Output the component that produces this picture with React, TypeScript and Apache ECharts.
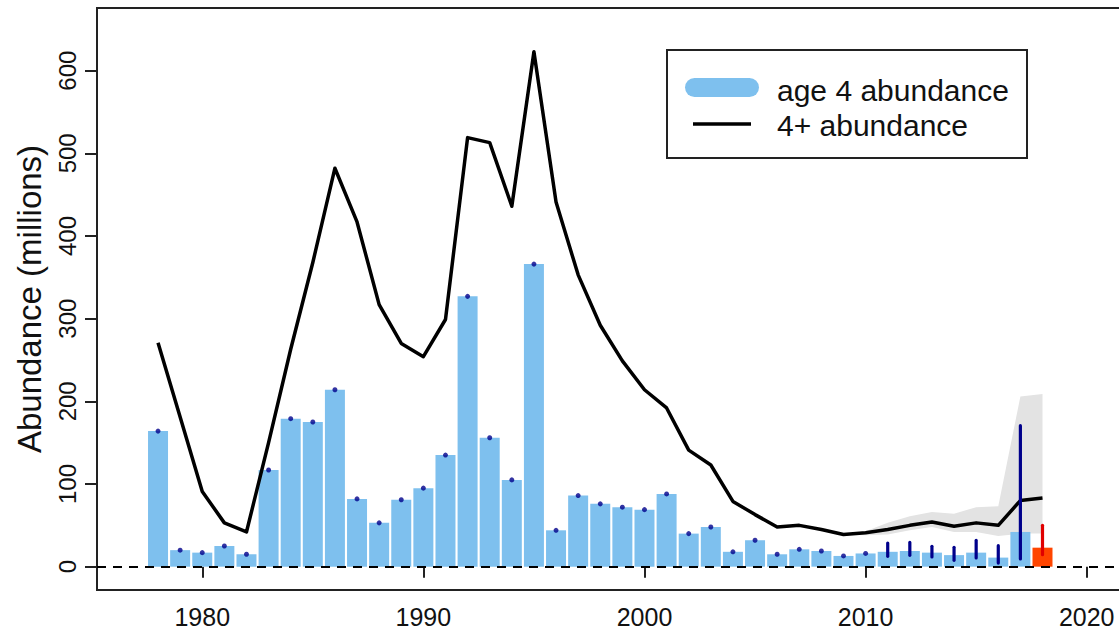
import React, { useEffect, useRef } from "react";
import * as echarts from "echarts";

// Survey years with age-4 estimates (2018 is the projected year)
const years = [
  1978, 1979, 1980, 1981, 1982, 1983, 1984, 1985, 1986, 1987,
  1988, 1989, 1990, 1991, 1992, 1993, 1994, 1995, 1996, 1997,
  1998, 1999, 2000, 2001, 2002, 2003, 2004, 2005, 2006, 2007,
  2008, 2009, 2010, 2011, 2012, 2013, 2014, 2015, 2016, 2017,
];

// Age 4 abundance (millions), 1978–2017
const age4Abundance = [
  164, 20, 17, 25, 15, 117, 179, 175, 214, 82,
  53, 81, 95, 135, 327, 156, 105, 366, 44, 86,
  76, 72, 69, 88, 40, 48, 18, 32, 15, 21,
  19, 13, 16, 18, 19, 17, 14, 17, 11, 42,
];

// Projected age 4 abundance
const projectedYear = 2018;
const projectedAge4 = 23;
const projectedLower = 14.5;
const projectedUpper = 50;

// 4+ abundance (millions), 1978–2018
const lineYears = [...years, 2018];
const abundance4Plus = [
  271, 181, 91, 53, 42, 150, 263, 368, 482, 417,
  317, 270, 254, 299, 519, 513, 436, 623, 441, 353,
  292, 249, 214, 192, 141, 123, 79, 63, 48, 50,
  45, 39, 41, 45, 50, 54, 49, 53, 50, 80,
  83,
];

// Uncertainty band around 4+ abundance
const bandYears = [2009, 2010, 2011, 2012, 2013, 2014, 2015, 2016, 2017, 2018];
const bandLower = [38.5, 38, 39, 44, 48, 42, 42, 37, 40, 40];
const bandUpper = [39.5, 43, 53, 61, 66, 64, 72, 73, 206, 209];

// Interval on age 4 abundance for recent years
const ciYears = [2011, 2012, 2013, 2014, 2015, 2016, 2017];
const ciLower = [12.5, 13.7, 11.7, 7.7, 10.5, 4.4, 9.3];
const ciUpper = [28.6, 29.4, 24.6, 23.4, 31.8, 25.4, 170.6];

// Years shown only as point estimates
const pointYearsEnd = 2010;

const yTicks = [0, 100, 200, 300, 400, 500, 600];
const xTicks = [1980, 1990, 2000, 2010, 2020];

const FONT = "'Liberation Sans', Arial, Helvetica, sans-serif";
const BAR_BLUE = "#7EC0EE";
const NAVY = "#00008B";

export default function App() {
  const ref = useRef<HTMLDivElement>(null);

  useEffect(() => {
    if (!ref.current) return;
    const chart = echarts.init(ref.current, undefined, { renderer: "svg" });

    const barData: any[] = years.map((y, i) => [y, age4Abundance[i]]);
    barData.push({
      value: [projectedYear, projectedAge4],
      itemStyle: { color: "#FF4500" },
    });

    const dotData = years
      .map((y, i) => [y, age4Abundance[i]])
      .filter((d) => d[0] <= pointYearsEnd);

    const ciData = ciYears.map((y, i) => [y, ciLower[i], ciUpper[i], 0]);
    ciData.push([projectedYear, projectedLower, projectedUpper, 1]);

    const option: any = {
      animation: false,
      backgroundColor: "#ffffff",
      textStyle: { fontFamily: FONT },
      grid: {
        left: 97,
        right: 18,
        top: 8,
        bottom: 45,
        show: true,
        borderColor: "#222",
        borderWidth: 2,
        backgroundColor: "transparent",
      },
      xAxis: {
        type: "value",
        min: 1975.24,
        max: 2022.5,
        axisLine: { show: false },
        splitLine: { show: false },
        axisTick: {
          show: true,
          customValues: xTicks,
          length: 11,
          lineStyle: { color: "#222", width: 2 },
        },
        axisLabel: {
          customValues: xTicks,
          formatter: (v: number) => String(v),
          fontSize: 25,
          color: "#111",
          margin: 14,
          fontFamily: FONT,
        },
      },
      yAxis: {
        type: "value",
        min: -28.2,
        max: 675.8,
        name: "Abundance (millions)",
        nameLocation: "middle",
        nameRotate: 90,
        nameGap: 51,
        nameTextStyle: { fontSize: 33, color: "#111", fontFamily: FONT },
        axisLine: { show: false },
        splitLine: { show: false },
        axisTick: {
          show: true,
          customValues: yTicks,
          length: 12,
          lineStyle: { color: "#222", width: 2 },
        },
        axisLabel: {
          customValues: yTicks,
          formatter: (v: number) => String(v),
          rotate: 90,
          fontSize: 24,
          color: "#111",
          margin: 18,
          fontFamily: FONT,
        },
      },
      series: [
        {
          // grey uncertainty band around 4+ abundance
          type: "custom",
          z: 1,
          silent: true,
          data: [[bandYears[0], bandLower[0]]],
          encode: { x: 0, y: 1 },
          renderItem: (_params: any, api: any) => {
            const pts: number[][] = [];
            bandYears.forEach((y, i) => pts.push(api.coord([y, bandUpper[i]])));
            for (let i = bandYears.length - 1; i >= 0; i--) {
              pts.push(api.coord([bandYears[i], bandLower[i]]));
            }
            return {
              type: "polygon",
              shape: { points: pts },
              style: { fill: "#E3E3E3", stroke: "none" },
            };
          },
        },
        {
          type: "bar",
          z: 2,
          barWidth: 20,
          itemStyle: { color: BAR_BLUE },
          data: barData,
        },
        {
          type: "line",
          z: 3,
          symbol: "none",
          lineStyle: { color: "#000", width: 3.5, join: "round" },
          data: lineYears.map((y, i) => [y, abundance4Plus[i]]),
        },
        {
          type: "scatter",
          z: 4,
          symbol: "circle",
          symbolSize: 5,
          itemStyle: { color: NAVY },
          data: dotData,
          markLine: {
            silent: true,
            symbol: ["none", "none"],
            label: { show: false },
            lineStyle: { color: "#000", width: 2, type: [9, 7] },
            data: [{ yAxis: 0 }],
          },
        },
        {
          type: "custom",
          z: 5,
          silent: true,
          data: ciData,
          encode: { x: 0, y: [1, 2] },
          renderItem: (_params: any, api: any) => {
            const x = api.value(0);
            const lo = api.coord([x, api.value(1)]);
            const hi = api.coord([x, api.value(2)]);
            const projected = api.value(3) === 1;
            return {
              type: "line",
              shape: { x1: lo[0], y1: lo[1], x2: hi[0], y2: hi[1] },
              style: {
                stroke: projected ? "#E00000" : NAVY,
                lineWidth: 3.2,
                lineCap: "round",
              },
            };
          },
        },
      ],
      graphic: [
        {
          type: "rect",
          shape: { x: 667, y: 50, width: 360, height: 108 },
          style: { fill: "#fff", stroke: "#222", lineWidth: 2 },
          z: 10,
        },
        {
          type: "rect",
          shape: { x: 685, y: 78, width: 74, height: 19, r: 9.5 },
          style: { fill: BAR_BLUE },
          z: 11,
        },
        {
          type: "line",
          shape: { x1: 693, y1: 124, x2: 751, y2: 124 },
          style: { stroke: "#000", lineWidth: 3.5 },
          z: 11,
        },
        {
          type: "text",
          x: 777,
          y: 90,
          style: {
            text: "age 4 abundance",
            font: `30px ${FONT}`,
            fill: "#111",
            verticalAlign: "middle",
            align: "left",
          },
          z: 11,
        },
        {
          type: "text",
          x: 777,
          y: 125,
          style: {
            text: "4+ abundance",
            font: `30px ${FONT}`,
            fill: "#111",
            verticalAlign: "middle",
            align: "left",
          },
          z: 11,
        },
      ],
    };

    chart.setOption(option);
    return () => {
      chart.dispose();
    };
  }, []);

  return (
    <div
      style={{
        position: "absolute",
        left: 0,
        top: 0,
        width: 1119,
        height: 635,
        overflow: "hidden",
        background: "#fff",
      }}
    >
      <div ref={ref} style={{ width: 1160, height: 635 }} />
    </div>
  );
}
